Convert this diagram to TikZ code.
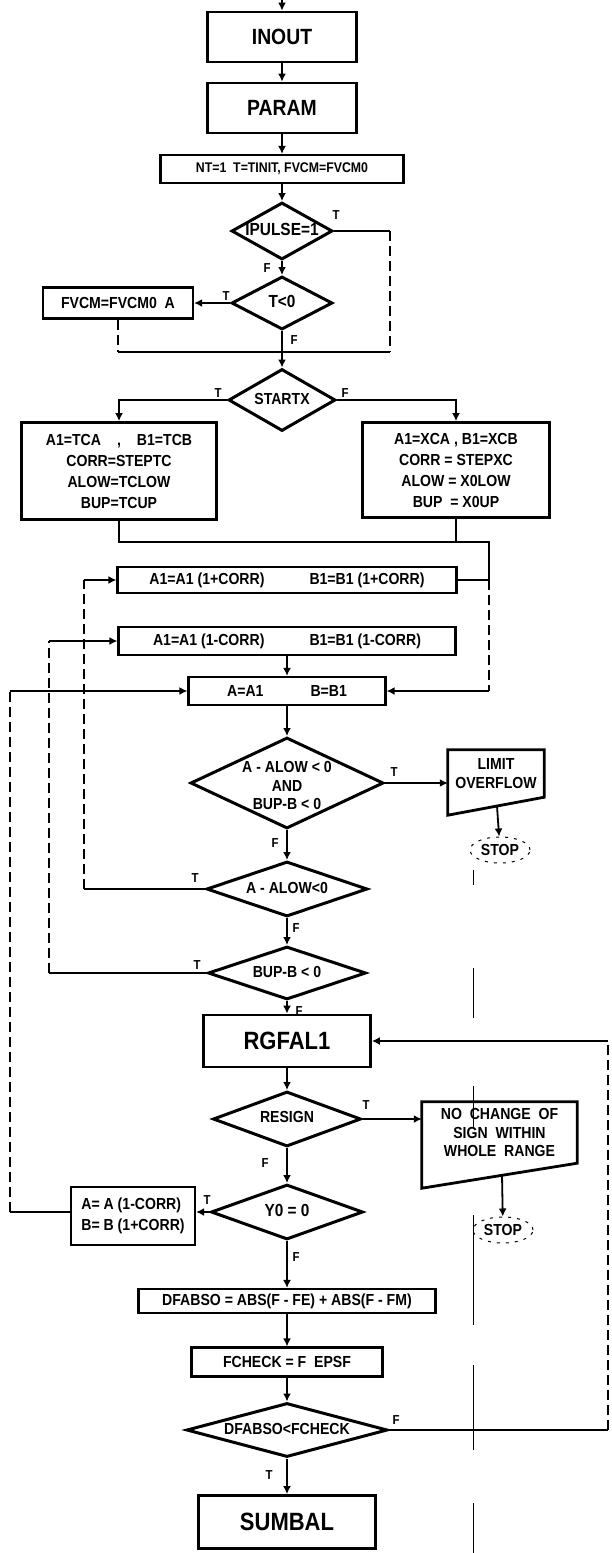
\documentclass[tikz,border=0pt]{standalone}
\usepackage{fontspec}
\setmainfont{Liberation Sans}[FakeStretch=0.88]
\usetikzlibrary{shapes.geometric,arrows.meta}

\newcommand\fbig{\fontsize{22}{26}\selectfont\bfseries}
\newcommand\fhuge{\fontsize{25}{30}\selectfont\bfseries}
\newcommand\fmid{\fontsize{16}{21}\selectfont\bfseries}
\newcommand\fsml{\fontsize{14}{17}\selectfont\bfseries}
\newcommand\fdec{\fontsize{17.5}{22}\selectfont\bfseries}
\newcommand\fnote{\fontsize{16}{18.5}\selectfont\bfseries}
\newcommand\flab{\fontsize{13}{15}\selectfont\bfseries}
\newcommand\dtext[1]{\makebox[0pt]{\begin{tabular}{@{}c@{}}#1\end{tabular}}}

\tikzset{
    proc/.style={rectangle,draw,line width=2.8pt,inner sep=0,font=\fmid},
    dec/.style={diamond,draw,line width=3pt,inner sep=0,font=\fmid},
    io/.style={rectangle,inner sep=0,align=center,font=\fnote},
    term/.style={ellipse,draw,dash pattern=on 3pt off 6pt,line width=1pt,inner sep=0,font=\fmid},
    lab/.style={inner sep=0,font=\flab},
    conn/.style={line width=1.8pt},
    flow/.style={conn,-{Latex[length=8pt,width=8pt]}},
    faint/.style={line width=1.5pt,dash pattern=on 10pt off 5pt}
    }

\begin{document}
\begin{tikzpicture}[x=1pt,y=-1pt]
    \useasboundingbox (0,0) rectangle (611,1553);
    % The boxes
    \node (inout)[proc, minimum width=149, minimum height=50, font=\fbig] at (282,37) {INOUT};
    \node (param)[proc, minimum width=149, minimum height=50, font=\fbig] at (282,108) {PARAM};
    \node (init)[proc, line width=2.2pt, minimum width=243, minimum height=28, font=\fsml] at (282,169) {NT=1\ \ T=TINIT, FVCM=FVCM0};
    \node (ipulse)[dec, minimum width=101, minimum height=57, font=\fdec] at (282,231) {\dtext{IPULSE=1}};
    \node (tneg)[dec, minimum width=101, minimum height=53, font=\fdec] at (282,303) {\dtext{T<0}};
    \node (fvcm)[proc, line width=2.2pt, minimum width=150, minimum height=31] at (118,303) {FVCM=FVCM0\ \ A};
    \node (startx)[dec, minimum width=107, minimum height=62] at (282,400) {\dtext{STARTX}};
    \node (tcbox)[proc, minimum width=195, minimum height=97, align=center] at (119,471) {A1=TCA\quad,\quad B1=TCB\\CORR=STEPTC\\ALOW=TCLOW\\BUP=TCUP};
    \node (xcbox)[proc, minimum width=187, minimum height=95, align=center] at (456,470) {A1=XCA , B1=XCB\\CORR = STEPXC\\ALOW = X0LOW\\BUP\ \ = X0UP};
    \node (incr)[proc, line width=2.2pt, minimum width=339, minimum height=26] at (287,580) {A1=A1 (1+CORR)\hspace{45pt}B1=B1 (1+CORR)};
    \node (decr)[proc, line width=2.2pt, minimum width=337, minimum height=28] at (287,641) {A1=A1 (1-CORR)\hspace{45pt}B1=B1 (1-CORR)};
    \node (setab)[proc, line width=2.2pt, minimum width=197, minimum height=28] at (287,691) {A=A1\hspace{47pt}B=B1};
    \node (both)[dec, minimum width=193, minimum height=91, font=\fnote] at (287,783) {\raisebox{-9pt}[0pt][0pt]{\dtext{A - ALOW < 0\\AND\\BUP-B < 0}}};
    \node (limit)[io, minimum width=96, minimum height=47] at (496,773.5) {LIMIT\\OVERFLOW};
    \node (stopa)[term, minimum width=60, minimum height=26] at (500,850) {STOP};
    \node (alow)[dec, minimum width=161, minimum height=55] at (287,889) {\dtext{A - ALOW<0}};
    \node (bup)[dec, minimum width=158, minimum height=53] at (287,973) {\dtext{BUP-B < 0}};
    \node (rgfal)[proc, minimum width=167, minimum height=52, font=\fhuge] at (287,1041) {RGFAL1};
    \node (resign)[dec, minimum width=148, minimum height=55, font=\fnote] at (287,1119) {\dtext{RESIGN}};
    \node (nochg)[io, minimum width=155, minimum height=61] at (499.5,1132.5) {NO\ \ CHANGE\ \ OF\\SIGN\ \ WITHIN\\WHOLE\ \ RANGE};
    \node (stopb)[term, minimum width=60, minimum height=26] at (503,1230) {STOP};
    \node (yzero)[dec, minimum width=152, minimum height=55, font=\fdec] at (287,1212) {\dtext{Y0 = 0}};
    \node (corrab)[proc, line width=2.2pt, minimum width=124, minimum height=58, align=left] at (133,1216) {A= A (1-CORR)\\B= B (1+CORR)};
    \node (dfabs)[proc, line width=2.2pt, minimum width=297, minimum height=24, font=\fnote] at (287,1301) {DFABSO = ABS(F - FE) + ABS(F - FM)};
    \node (fchk)[proc, line width=2.2pt, minimum width=191, minimum height=29] at (287,1362) {FCHECK = F\ \ EPSF};
    \node (dcheck)[dec, minimum width=201, minimum height=54] at (287,1430) {\dtext{DFABSO<FCHECK}};
    \node (sumbal)[proc, minimum width=177, minimum height=53, font=\fhuge] at (287,1522) {SUMBAL};

    % outlines with slanted bottom
    \draw[line width=2.8pt] (limit.north west) -- (limit.north east) -- (limit.south east) -- ([yshift=-18pt]limit.south west) -- cycle;
    \draw[line width=2.8pt] (nochg.north west) -- (nochg.north east) -- (nochg.south east) -- ([yshift=-25pt]nochg.south west) -- cycle;

    % bends
    \coordinate (top) at (282,0);
    \coordinate (ipr) at (390,231);
    \coordinate (ipd) at (390,352);
    \coordinate (fvd) at (118,352);
    \coordinate (mrgl) at (119,542);
    \coordinate (mrgr) at (489,542);
    \coordinate (mrgx) at (456,542);
    \coordinate (rin) at (489,580);
    \coordinate (rdn) at (489,691);
    \coordinate (la) at (84,889);
    \coordinate (lat) at (84,580);
    \coordinate (lb) at (49,973);
    \coordinate (lbt) at (49,641);
    \coordinate (lc) at (10,1212);
    \coordinate (lct) at (10,691);
    \coordinate (lima) at (497,806);
    \coordinate (nocb) at (502,1175);
    \coordinate (rb) at (608,1430);
    \coordinate (rt) at (608,1041);

    % The flow
    \draw[flow] (top) -- (inout);
    \draw[flow] (inout) -- (param);
    \draw[flow] (param) -- (init);
    \draw[flow] (init) -- (ipulse);
    \draw[flow] (ipulse) -- (tneg);
    \draw[conn] (ipulse.east) -- (ipr);
    \draw[faint] (ipr) -- (ipd);
    \draw[flow] (tneg.west) -- (fvcm.east);
    \draw[faint] (fvcm.south) -- (fvd);
    \draw[conn] (fvd) -- (ipd);
    \draw[flow] (tneg) -- (startx);
    \draw[flow] (startx.west) -| (tcbox.north);
    \draw[flow] (startx.east) -| (xcbox.north);
    \draw[conn] (tcbox.south) -- (mrgl) -- (mrgr) -- (rin);
    \draw[conn] (xcbox.south) -- (mrgx);
    \draw[conn] (incr.east) -- (rin);
    \draw[faint] (rin) -- (rdn);
    \draw[flow] (rdn) -- (setab.east);
    \draw[conn] (alow.west) -- (la);
    \draw[faint] (la) -- (lat);
    \draw[flow] (lat) -- (incr.west);
    \draw[conn] (bup.west) -- (lb);
    \draw[faint] (lb) -- (lbt);
    \draw[flow] (lbt) -- (decr.west);
    \draw[flow] (decr) -- (setab);
    \draw[conn] (yzero.west -| corrab.west) -- (lc);
    \draw[faint] (lc) -- (lct);
    \draw[flow] (lct) -- (setab.west);
    \draw[flow] (setab) -- (both);
    \draw[flow] (both.east) -- (both.east -| limit.west);
    \draw[flow] (lima) -- (stopa);
    \draw[flow] (both) -- (alow);
    \draw[flow] (alow) -- (bup);
    \draw[flow] (bup) -- (rgfal);
    \draw[flow] (rgfal) -- (resign);
    \draw[flow] (resign.east) -- (resign.east -| nochg.west);
    \draw[flow] (nocb) -- (stopb);
    \draw[flow] (resign) -- (yzero);
    \draw[flow] (yzero.west) -- (yzero.west -| corrab.east);
    \draw[flow] (yzero) -- (dfabs);
    \draw[flow] (dfabs) -- (fchk);
    \draw[flow] (fchk) -- (dcheck);
    \draw[flow] (dcheck) -- (sumbal);
    \draw[conn] (dcheck.east) -- (rb);
    \draw[faint] (rb) -- (rt);
    \draw[flow] (rt) -- (rgfal.east);

    % T and F
    \node[lab] (ipt) at (336,215) {T};
    \node[lab] (ipf) at (267,268) {F};
    \node[lab] (tnt) at (226,296) {T};
    \node[lab] (tnf) at (294,340) {F};
    \node[lab] (stt) at (218,393) {T};
    \node[lab] (stf) at (345,393) {F};
    \node[lab] (bot) at (394,772) {T};
    \node[lab] (bof) at (275,843) {F};
    \node[lab] (alt) at (195,878) {T};
    \node[lab] (alf) at (296,928) {F};
    \node[lab] (bpt) at (197,965) {T};
    \node[lab] (bpf) at (299,1011) {F};
    \node[lab] (rst) at (366,1105) {T};
    \node[lab] (rsf) at (265,1163) {F};
    \node[lab] (yzt) at (207,1200) {T};
    \node[lab] (yzf) at (296,1257) {F};
    \node[lab] (dct) at (269,1475) {T};
    \node[lab] (dcf) at (396,1420) {F};

    % the long thin line on the right
    \foreach \a/\b in {870/885,968/1018,1086/1127,1215/1325,1365/1450,1503/1553}
        \draw[line width=1pt] (473,\a) -- (473,\b);
\end{tikzpicture}
\end{document}
